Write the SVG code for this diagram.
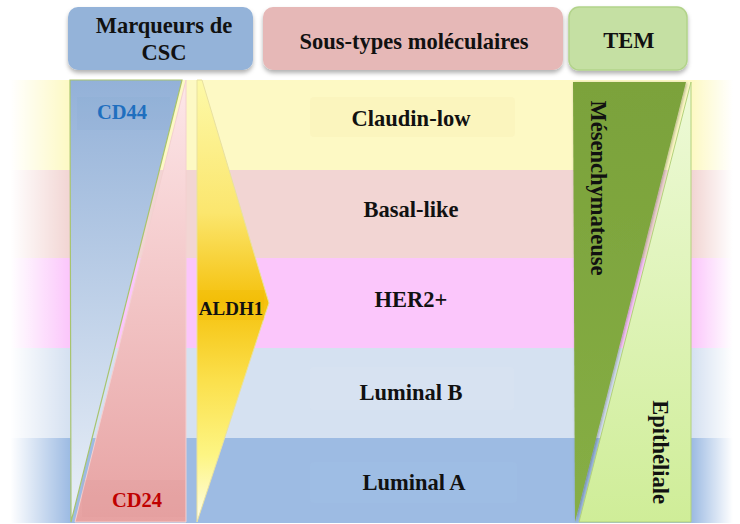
<svg xmlns="http://www.w3.org/2000/svg" width="740" height="524" viewBox="0 0 740 524">
<defs>
<style>
.t{font-family:"Liberation Serif","Times New Roman",serif;font-weight:bold;font-size:22.5px;fill:#111;text-anchor:middle}
.s{font-size:20.5px}
.hb{filter:url(#sh)}
.lb{opacity:0.18}
</style>
<filter id="sh" x="-10%" y="-10%" width="120%" height="140%"><feDropShadow dx="0" dy="3" stdDeviation="2" flood-color="#000" flood-opacity="0.3"/></filter>
<filter id="sh2" x="-10%" y="-5%" width="120%" height="110%"><feDropShadow dx="1" dy="1" stdDeviation="1.5" flood-color="#000" flood-opacity="0.3"/></filter>
<linearGradient id="fl" x1="0" y1="0" x2="1" y2="0"><stop offset="0.15" stop-color="#fff" stop-opacity="1"/><stop offset="1" stop-color="#fff" stop-opacity="0"/></linearGradient>
<linearGradient id="fr" x1="0" y1="0" x2="1" y2="0"><stop offset="0" stop-color="#fff" stop-opacity="0"/><stop offset="0.85" stop-color="#fff" stop-opacity="1"/></linearGradient>
<linearGradient id="gb" x1="0" y1="0" x2="0" y2="1"><stop offset="0" stop-color="#93b1d8"/><stop offset="1" stop-color="#eaf0f8"/></linearGradient>
<linearGradient id="gp" x1="0" y1="0" x2="0" y2="1"><stop offset="0" stop-color="#fde7e9"/><stop offset="1" stop-color="#e7a2a2"/></linearGradient>
<linearGradient id="gy" x1="0" y1="0" x2="0" y2="1"><stop offset="0" stop-color="#fdf9a8"/><stop offset="0.3" stop-color="#fbe66e"/><stop offset="0.5" stop-color="#f5c10c"/><stop offset="0.68" stop-color="#fbe04c"/><stop offset="0.85" stop-color="#fdf584"/><stop offset="1" stop-color="#fffde8"/></linearGradient>
<linearGradient id="gd" x1="0" y1="0" x2="0" y2="1"><stop offset="0" stop-color="#7ba23b"/><stop offset="1" stop-color="#86ae45"/></linearGradient>
<linearGradient id="gl" x1="0" y1="0" x2="0" y2="1"><stop offset="0" stop-color="#eefad8"/><stop offset="1" stop-color="#cfed98"/></linearGradient>
</defs>

<g id="bands">
<rect x="0" y="80" width="740" height="90" fill="#fdf9c4"/>
<rect x="0" y="170" width="740" height="88" fill="#f2d5d3"/>
<rect x="0" y="258" width="740" height="90" fill="#fbc6fb"/>
<rect x="0" y="348" width="740" height="90" fill="#d5e1f1"/>
<rect x="0" y="438" width="740" height="85" fill="#9dbbe3"/>
<rect x="0" y="80" width="70" height="444" fill="url(#fl)"/>
<rect x="692" y="80" width="48" height="444" fill="url(#fr)"/>
<rect class="lb" x="310" y="97" width="205" height="40" rx="4" fill="#f6e2a6"/>
<rect class="lb" x="310" y="367" width="204" height="43" rx="4" fill="#e2eaf6"/>
<rect class="lb" x="310" y="462" width="207" height="41" rx="4" fill="#a9c6ea"/>
</g>

<g id="header-csc">
<rect class="hb" x="68" y="7" width="185" height="63" rx="10" fill="#94b3d9"/>
<text class="t" x="164" y="33">Marqueurs de</text>
<text class="t" x="164" y="60">CSC</text>
</g>
<g id="header-soustypes">
<rect class="hb" x="263" y="7" width="300" height="63" rx="10" fill="#e6b8b7"/>
<text class="t" x="414" y="49">Sous-types moléculaires</text>
</g>
<g id="header-tem">
<rect class="hb" x="569" y="7" width="118" height="63" rx="10" fill="#c5e0a3" stroke="#b2d38a" stroke-width="1.5"/>
<text class="t" x="629" y="48">TEM</text>
</g>

<g id="cd44">
<polygon points="70,80 182,80 71,522" fill="url(#gb)" stroke="#a8c46e" stroke-width="1.2"/>
<rect x="77" y="97" width="93" height="33" fill="#7fa2d0" opacity="0.12"/>
<text class="t s" x="122" y="119" style="fill:#1f6fbf">CD44</text>
</g>
<g id="cd24">
<polygon points="186,80 186,522 75,522" fill="url(#gp)" stroke="#f3d0d0" stroke-width="1"/>
<rect x="82" y="480" width="103" height="37" fill="#d88f8f" opacity="0.12"/>
<text class="t s" x="137" y="507" style="fill:#c00000">CD24</text>
</g>
<g id="aldh1">
<polygon points="197,80 202,80 269,303 197,522" fill="url(#gy)" stroke="#e8e0a0" stroke-width="1"/>
<rect x="198" y="290" width="66" height="30" fill="#f0b800" opacity="0.3"/>
<text class="t" x="231" y="315" style="font-size:19px">ALDH1</text>
</g>

<g id="subtypes">
<text class="t" x="411" y="126">Claudin-low</text>
<text class="t" x="411" y="217">Basal-like</text>
<text class="t" x="411" y="307">HER2+</text>
<text class="t" x="411" y="400">Luminal B</text>
<text class="t" x="414" y="490">Luminal A</text>
</g>

<g id="mesenchymateuse">
<polygon points="573,82 686,82 575,522" fill="url(#gd)" filter="url(#sh2)"/>
<text class="t" transform="translate(591,188) rotate(90)" x="0" y="0">Mésenchymateuse</text>
</g>
<g id="epitheliale">
<polygon points="691,82 691,522 579,522" fill="url(#gl)" stroke="#b3d17c" stroke-width="1"/>
<text class="t" transform="translate(653,452) rotate(90)" x="0" y="0">Epithéliale</text>
</g>
</svg>
